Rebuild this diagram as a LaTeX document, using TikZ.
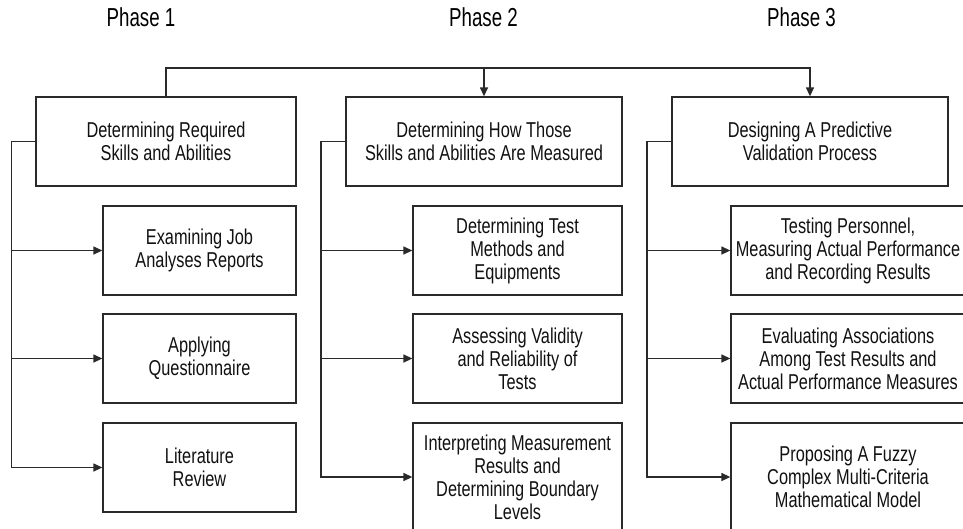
\documentclass[tikz,border=0pt]{standalone}
\usepackage{fontspec}
\setmainfont{Liberation Sans}[FakeStretch=0.76]
\newfontfamily\phasefont{Liberation Sans}[FakeStretch=0.72]
\usetikzlibrary{arrows.meta}
\definecolor{linec}{HTML}{2A2A2A}
\definecolor{textc}{HTML}{111111}
\tikzset{
  boxnode/.style={draw=linec, line width=1.3pt, align=center, inner sep=0pt,
    text=textc, font=\fontsize{21.5}{23}\selectfont},
  conn/.style={draw=linec, line width=1.3pt},
  arr/.style={conn, -{Triangle[length=9pt,width=8pt]}},
  phaselabel/.style={anchor=base, text=black, font=\phasefont\fontsize{26}{28}\selectfont}
}
\begin{document}
\begin{tikzpicture}[x=1pt,y=-1pt]
\clip (0,0) rectangle (963,528);
\fill[white] (0,0) rectangle (963,528);

% phase labels
\node[phaselabel] (p1) at (141,26) {Phase 1};
\node[phaselabel] (p2) at (483.5,26) {Phase 2};
\node[phaselabel] (p3) at (801.5,26) {Phase 3};

% main boxes
\node[boxnode, minimum width=260pt, minimum height=89pt] (m1) at (166,141.5) {Determining Required\\Skills and Abilities};
\node[boxnode, minimum width=276pt, minimum height=89pt] (m2) at (484,141.5) {Determining How Those\\Skills and Abilities Are Measured};
\node[boxnode, minimum width=276pt, minimum height=89pt] (m3) at (810,141.5) {Designing A Predictive\\Validation Process};

% phase 1 sub boxes
\node[boxnode, minimum width=193pt, minimum height=89pt] (s11) at (199.5,250.5) {Examining Job\\Analyses Reports};
\node[boxnode, minimum width=193pt, minimum height=89pt] (s12) at (199.5,358.5) {Applying\\Questionnaire};
\node[boxnode, minimum width=193pt, minimum height=89pt] (s13) at (199.5,467.5) {Literature\\Review};

% phase 2 sub boxes
\node[boxnode, minimum width=209pt, minimum height=89pt] (s21) at (517.5,250.5) {Determining Test\\Methods and\\Equipments};
\node[boxnode, minimum width=209pt, minimum height=89pt] (s22) at (517.5,358.5) {Assessing Validity\\and Reliability of\\Tests};
\node[boxnode, minimum width=209pt, minimum height=108pt] (s23) at (517.5,477) {Interpreting Measurement\\Results and\\Determining Boundary\\Levels};

% phase 3 sub boxes
\node[boxnode, minimum width=234pt, minimum height=89pt] (s31) at (848,250.5) {Testing Personnel,\\Measuring Actual Performance\\and Recording Results};
\node[boxnode, minimum width=234pt, minimum height=89pt] (s32) at (848,358.5) {Evaluating Associations\\Among Test Results and\\Actual Performance Measures};
\node[boxnode, minimum width=234pt, minimum height=108pt] (s33) at (848,477) {Proposing A Fuzzy\\Complex Multi-Criteria\\Mathematical Model};

% top connector
\coordinate (top) at (166,68);
\draw[arr] (m1.north) -- (top) -| (m3.north);
\draw[arr] (m2.north |- top) -- (m2.north);

% spines
\coordinate (sp1) at (11.5,0);
\coordinate (sp2) at (321,0);
\coordinate (sp3) at (647,0);

\draw[arr] (m1.west) -- (sp1 |- m1.west) |- (s13.west);
\draw[arr] (sp1 |- s11.west) -- (s11.west);
\draw[arr] (sp1 |- s12.west) -- (s12.west);

\draw[arr] (m2.west) -- (sp2 |- m2.west) |- (s23.west);
\draw[arr] (sp2 |- s21.west) -- (s21.west);
\draw[arr] (sp2 |- s22.west) -- (s22.west);

\draw[arr] (m3.west) -- (sp3 |- m3.west) |- (s33.west);
\draw[arr] (sp3 |- s31.west) -- (s31.west);
\draw[arr] (sp3 |- s32.west) -- (s32.west);
\end{tikzpicture}
\end{document}
